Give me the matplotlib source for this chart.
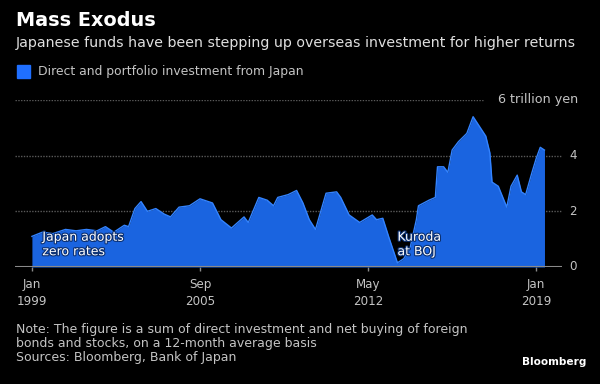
import matplotlib

matplotlib.use("Agg")
import matplotlib.dates as mdates
import matplotlib.patheffects as pe
import matplotlib.pyplot as plt
import pandas as pd

# 12-month average of direct + portfolio investment from Japan, trillion yen
months = [
    "1999-01", "1999-06", "1999-11", "2000-05", "2000-10", "2001-03", "2001-08",
    "2001-12", "2002-04", "2002-09", "2002-11", "2003-02", "2003-05", "2003-08",
    "2003-12", "2004-04", "2004-07", "2004-11", "2005-04", "2005-09", "2006-03",
    "2006-07", "2006-12", "2007-06", "2007-08", "2008-01", "2008-05", "2008-08",
    "2008-10", "2009-03", "2009-07", "2009-10", "2010-01", "2010-04", "2010-09",
    "2011-02", "2011-04", "2011-08", "2012-01", "2012-07", "2012-09", "2012-12",
    "2013-03", "2013-05", "2013-07", "2013-10", "2014-01", "2014-04", "2014-05",
    "2014-10", "2015-01", "2015-02", "2015-05", "2015-07", "2015-09", "2015-12",
    "2016-04", "2016-07", "2016-10", "2017-01", "2017-03", "2017-04", "2017-07",
    "2017-11", "2018-01", "2018-04", "2018-06", "2018-08", "2018-11", "2019-01",
    "2019-03", "2019-05",
]
values = [
    1.10, 1.25, 1.20, 1.35, 1.30, 1.35, 1.30,
    1.45, 1.25, 1.50, 1.45, 2.10, 2.35, 2.00,
    2.10, 1.90, 1.80, 2.15, 2.20, 2.45, 2.30,
    1.70, 1.40, 1.80, 1.60, 2.50, 2.40, 2.20,
    2.50, 2.60, 2.75, 2.30, 1.70, 1.35, 2.65,
    2.70, 2.50, 1.87, 1.60, 1.87, 1.70, 1.75,
    1.05, 0.60, 0.15, 0.30, 0.70, 1.70, 2.20,
    2.40, 2.50, 3.60, 3.60, 3.40, 4.20, 4.50,
    4.80, 5.40, 5.05, 4.70, 4.10, 3.05, 2.90,
    2.15, 2.90, 3.30, 2.70, 2.60, 3.40, 3.90,
    4.30, 4.20,
]

tick_dates = ["1999-01-01", "2005-09-01", "2012-05-01", "2019-01-01"]
tick_months = ["Jan", "Sep", "May", "Jan"]
tick_years = ["1999", "2005", "2012", "2019"]
y_ticks = [2, 4]

annotations = [
    ("1999-06-01", 0.81, "Japan adopts\nzero rates"),
    ("2013-07-01", 0.81, "Kuroda\nat BOJ"),
]

note_lines = [
    "Note: The figure is a sum of direct investment and net buying of foreign",
    "bonds and stocks, on a 12-month average basis",
    "Sources: Bloomberg, Bank of Japan",
]

BG = "black"
BLUE = "#1a64e0"
EDGE = "#3383ff"
GREY = "#c4c4c4"
GRID = "#5a5a5a"
H = 384.0  # figure height in px, used for placing header/footer text

dates = pd.to_datetime(months)

fig = plt.figure(figsize=(6, 3.84), dpi=100, facecolor=BG)
ax = fig.add_axes([0.025, 0.3047, 0.9117, 0.4349], facecolor=BG)

# dotted gridlines; the 6 line stops short of its label
for y in y_ticks:
    ax.axhline(y, xmin=0, xmax=1.0, color=GRID, lw=1.0, ls=(0, (1, 1)), zorder=0)
ax.axhline(6, xmin=0, xmax=0.855, color=GRID, lw=1.0, ls=(0, (1, 1)), zorder=0)

ax.fill_between(dates, values, 0, color=BLUE, lw=0, zorder=2)
ax.plot(dates, values, color=EDGE, lw=1.0, zorder=3)
ax.axhline(0, color="#8a8a8a", lw=1.5, zorder=4)

ax.set_xlim(pd.Timestamp("1998-05-01"), pd.Timestamp("2020-01-10"))
ax.set_ylim(0, 6)
for s in ax.spines.values():
    s.set_visible(False)
ax.set_yticks([])
ax.set_xticks(pd.to_datetime(tick_dates))
ax.set_xticklabels([])
ax.tick_params(axis="x", colors="#8a8a8a", length=3, width=1)

# two-line date labels under the ticks
xt = ax.get_xaxis_transform()
for d, m, yr in zip(pd.to_datetime(tick_dates), tick_months, tick_years):
    xd = mdates.date2num(d)
    ax.annotate(m, (xd, 0), xycoords=xt, xytext=(0, -18), textcoords="offset pixels",
                color=GREY, fontsize=8.6, ha="center", va="center")
    ax.annotate(yr, (xd, 0), xycoords=xt, xytext=(0, -35), textcoords="offset pixels",
                color=GREY, fontsize=8.6, ha="center", va="center")

# right-hand value labels
yt = ax.get_yaxis_transform()
for y in [0] + y_ticks:
    ax.text(1.02, y, str(y), transform=yt, color=GREY, fontsize=8.6,
            ha="center", va="center")
ax.text(1.029, 6, "6 trillion yen", transform=yt, color=GREY, fontsize=9.2,
        ha="right", va="center")

# event labels sit on the blue fill with a faint dark halo
halo = [pe.withStroke(linewidth=1.6, foreground="#0b2f70")]
for d, y, txt in annotations:
    ax.text(pd.Timestamp(d), y, txt, color="white", fontsize=9, ha="left",
            va="center", linespacing=1.15, zorder=5, path_effects=halo)

fig.text(0.027, 1 - 20 / H, "Mass Exodus", color="white", fontsize=13.9,
         fontweight="bold", va="center", ha="left")
fig.text(0.027, 1 - 43 / H,
         "Japanese funds have been stepping up overseas investment for higher returns",
         color="#e0e0e0", fontsize=10.2, va="center", ha="left")
fig.patches.append(plt.Rectangle((0.028, 1 - 78 / H), 13 / 600, 13 / H,
                                 transform=fig.transFigure, color="#1f6fff", figure=fig))
fig.text(0.063, 1 - 71 / H, "Direct and portfolio investment from Japan", color=GREY,
         fontsize=8.95, va="center", ha="left")

for i, line in enumerate(note_lines):
    fig.text(0.027, 1 - (329 + 14 * i) / H, line, color=GREY, fontsize=9.0,
             va="center", ha="left")
fig.text(0.87, 1 - 362 / H, "Bloomberg", color="white", fontsize=7.6,
         fontweight="bold", va="center", ha="left")

fig.savefig("out.png", dpi=100, facecolor=BG)
